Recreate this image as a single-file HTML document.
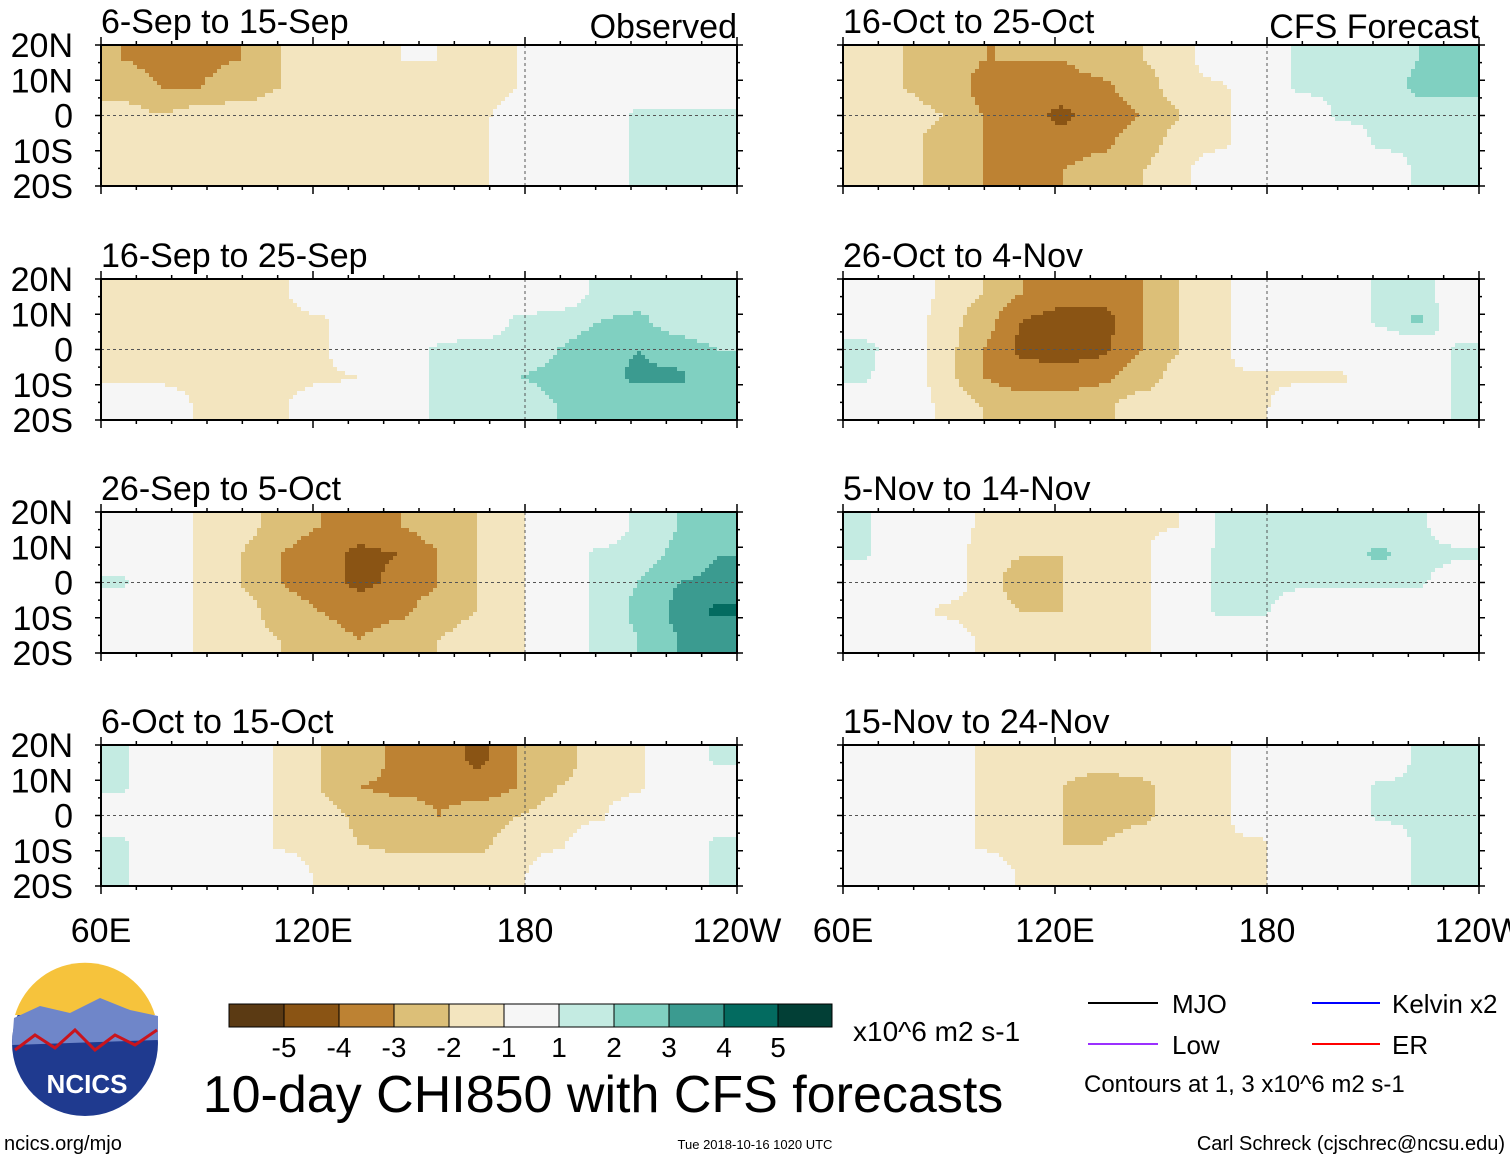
<!DOCTYPE html>
<html><head><meta charset="utf-8">
<style>
body{margin:0;background:#fff;width:1510px;height:1159px;overflow:hidden;font-family:"Liberation Sans",sans-serif;}
svg text{font-family:"Liberation Sans",sans-serif;}
</style></head>
<body>
<svg id="chart" width="1510" height="1159" viewBox="0 0 1510 1159" xmlns="http://www.w3.org/2000/svg" style="position:absolute;left:0;top:0">
<g id="panels"></g>
</svg>
<script>
const lonLabels=["60E","120E","180","120W"];
const latLabels=["20N","10N","0","10S","20S"];
const titles=["6-Sep to 15-Sep","16-Sep to 25-Sep","26-Sep to 5-Oct","6-Oct to 15-Oct","16-Oct to 25-Oct","26-Oct to 4-Nov","5-Nov to 14-Nov","15-Nov to 24-Nov"];
const levels=[-5,-4,-3,-2,-1,1,2,3,4,5];
const colors=["#5b3a13","#8a5414","#bd8233","#dcbf78","#f3e5bf","#f6f6f6","#c4ebe2","#80d0c1","#3b9b90","#036b60","#023f36"];
const p1=[[-3,-3.2,-3.2,-3,-2,-2,-1.5,-1,-1,-1.5,-1,0,0,0,0,0],[-2.5,-3,-3,-2.5,-2,-1.5,-1.2,-1.2,-1,-1.5,-1,0,0,0,0,0],[-1.5,-2,-1.5,-1.5,-1.5,-1.5,-1.5,-1.2,-1.2,-1.2,-0.5,0,0,1.2,1.2,1.2],[-1.2,-1.5,-2,-1.5,-1.5,-1.5,-1.5,-1.2,-1.2,-1.2,0,0,0,1.2,1.5,1.2],[-1.2,-1.2,-1.5,-1.5,-1.5,-1.5,-1.5,-1.2,-1.2,-1.2,0,0,0,1.2,1.8,1.2]];
const p2=[[-1.2,-1.5,-1.5,-1.5,-1.2,0,0,0,0,0,0,0,1.2,1.5,1.2,1.2],[-1.5,-1.5,-1.5,-1.5,-1.5,-1.2,0,0,0,0,1.2,1.5,2,2.2,1.5,1.2],[-1.2,-1.5,-2,-1.5,-1.5,-1.2,0,0,1.2,1.5,1.5,2,2.5,3,2.5,2],[-1.2,-1.2,-1.5,-1.5,-1.5,-1.2,-1,0,1.2,1.5,2,2.2,2.5,3.2,3.2,2.2],[0,0,-1.2,-1.2,-1.2,0,0,0,1.2,1.2,1.5,2,2.2,2.2,2.2,2.2]];
const p3=[[0,0,-1.2,-1.5,-2.5,-3,-3.5,-3,-2.5,-2,-1.2,0,0,1.2,2,2.5],[0,0,-1.2,-2,-3,-3.5,-4.2,-4,-3,-2,-1.2,0,1.2,1.5,2.2,3],[1.2,0,-1.2,-2,-3,-3.5,-4.2,-3.8,-3,-2,-1.2,0,1.2,2,3,3.2],[0,0,-1.2,-1.5,-2.5,-3,-3.5,-3.2,-2.5,-2,-1.2,0,1.2,2.2,3.2,4.2],[0,0,-1.2,-1.5,-2,-2.5,-3,-2.5,-2,-1.5,-1.2,0,1.2,2,3,3.2]];
const p4=[[1.2,0,0,0,-1.2,-2,-2.5,-3.2,-3.5,-4.2,-3,-2.5,-1.5,-1.2,0,1.2],[1.2,0,0,0,-1.2,-2,-3,-3.2,-3.2,-3.5,-3,-2,-1.5,-1.2,0,0],[0,0,0,0,-1.2,-1.5,-2.2,-2.5,-3,-2.5,-2,-1.5,-1.2,0,0,0],[1.2,0,0,0,-1.2,-1.5,-2,-2.2,-2.2,-2.2,-1.5,-1.2,0,0,0,1.2],[1.2,0,0,0,0,-1.2,-1.5,-1.5,-1.5,-1.5,-1.2,0,0,0,0,1.2]];
const p5=[[-1.5,-2,-2.5,-3,-3,-3,-2.5,-2,-1.5,0,0,1.2,1.5,1.5,2,2.2],[-1.5,-2,-2.5,-3.2,-3.5,-3.5,-3.2,-2.5,-1.5,-1.2,0,1.2,1.2,1.5,2.2,2.2],[-1.2,-1.5,-2,-3,-3.5,-4.2,-3.5,-3,-2,-1.2,0,0,1.2,1.2,1.5,1.5],[-1.2,-1.5,-2.5,-3,-3.5,-3.5,-3.2,-2.5,-1.5,-1.2,0,0,0,1.2,1.2,1.2],[-1.2,-1.5,-2.5,-3,-3.2,-3,-2.5,-2,-1.2,0,0,0,0,0,1.2,1.2]];
const p6=[[0,0,-1.2,-2,-3,-3.5,-3.5,-3,-2,-1.2,0,0,0,1.2,1.5,0],[0,0,-1.5,-2.5,-4,-4.5,-4.5,-3,-2,-1.2,0,0,0,1.2,2.2,0],[1.5,0,-1.5,-3,-4.2,-4.5,-4.2,-3,-2,-1.2,0,0,0,0,0,1.2],[1.2,0,-1.5,-3,-3.5,-3.5,-3.2,-2.5,-1.5,-1.2,-1.2,-1.2,-1.2,0,0,1.2],[0,0,-1.2,-2,-2.5,-2.5,-2.2,-1.5,-1.2,-1.2,-1.2,0,0,0,0,1.2]];
const p7=[[1.2,0,0,-1.2,-1.5,-1.5,-1.2,-1.2,-1,1.2,1.2,1.2,1.2,1.2,1.2,0],[1.2,0,0,-1.5,-2,-2,-1.5,-1.2,0,1.2,1.5,1.2,1.5,2.2,1.5,1.2],[0,0,0,-1.5,-2.5,-2,-1.5,-1.2,0,1.2,1.5,1.2,1.2,1.2,1.2,0],[0,0,-1.2,-1.5,-2,-2,-1.5,-1.2,0,1.2,1.2,0,0,0,0,0],[0,0,0,-1.2,-1.5,-1.5,-1.2,-1.2,0,0,0,0,0,0,0,0]];
const p8=[[0,0,0,-1.2,-1.5,-1.5,-1.5,-1.5,-1.2,-1.2,0,0,0,0,1.2,1.2],[0,0,0,-1.2,-1.5,-2,-2.5,-2.2,-1.5,-1.2,0,0,0,1.2,1.2,1.5],[0,0,0,-1.2,-1.5,-2,-2.5,-2.2,-1.5,-1.2,0,0,0,1.2,1.2,1.5],[0,0,0,-1.2,-1.5,-2,-2,-1.5,-1.5,-1.2,-1.2,0,0,0,1.2,1.2],[0,0,0,0,-1.2,-1.5,-1.5,-1.5,-1.2,-1.2,-1.2,0,0,0,1.2,1.2]];
const fields=[p1,p2,p3,p4,p5,p6,p7,p8];

const NS="http://www.w3.org/2000/svg";
function mk(tag,attrs,parent){const e=document.createElementNS(NS,tag);for(const k in attrs)e.setAttribute(k,attrs[k]);parent.appendChild(e);return e;}
function colorOf(v){if(v>-1&&v<1)return colors[5];let i=0;while(i<levels.length&&v>=levels[i])i++;return colors[i];}
function sample(f,fx,fy){const nr=f.length,nc=f[0].length;
  fx=Math.max(0,Math.min(nc-1,fx));fy=Math.max(0,Math.min(nr-1,fy));
  const x0=Math.min(nc-2,Math.floor(fx)),y0=Math.min(nr-2,Math.floor(fy));
  let tx=fx-x0,ty=fy-y0;tx=tx*tx*(3-2*tx)*0.5+tx*0.5;ty=ty*ty*(3-2*ty)*0.5+ty*0.5;
  const a=f[y0][x0],b=f[y0][x0+1],c=f[y0+1][x0],d=f[y0+1][x0+1];
  return (a*(1-tx)+b*tx)*(1-ty)+(c*(1-tx)+d*tx)*ty;}
const W=636,H=141,STEP=4;
const lefts=[101,843],tops=[45,279,512,745];
const pg=document.getElementById('panels');
fields.forEach((f,pi)=>{
  const col=pi<4?0:1,row=pi%4;
  const x0=lefts[col],y0=tops[row];
  const xs=lon=>x0+(lon-60)/180*W;
  const ys=lat=>y0+(20-lat)/40*H;
  const g=mk('g',{},pg);
  
  
  const cg=mk('g',{'shape-rendering':'crispEdges'},g);
  const nr=f.length,nc=f[0].length;
  for(let py=0;py<H;py+=STEP){
    const lat=20-(py+STEP/2)/H*40;
    const fy=(20-lat)/(40/nr)-0.5;
    let runStart=0,runColor=null;
    for(let px=0;px<=W;px+=STEP){
      let c=null;
      if(px<W){const lon=60+(px+STEP/2)/W*180;const fx=(lon-60)/(180/nc)-0.5;c=colorOf(sample(f,fx,fy));}
      if(c!==runColor){
        if(runColor!==null){
          const r=mk('rect',{x:x0+runStart,y:y0+py,width:Math.min(px,W)-runStart,height:Math.min(STEP,H-py),fill:runColor},cg);
          
          
        }
        runStart=px;runColor=c;
      }
    }
  }
  mk('line',{x1:x0,y1:ys(0),x2:x0+W,y2:ys(0),stroke:'#555','stroke-width':1,'stroke-dasharray':'3,3'},g);
  mk('line',{x1:xs(180),y1:y0,x2:xs(180),y2:y0+H,stroke:'#555','stroke-width':1,'stroke-dasharray':'3,3'},g);
  const fr=mk('rect',{x:x0,y:y0,width:W,height:H,fill:'none',stroke:'#000','stroke-width':2},g);
  
  
  for(let lon=60;lon<=240;lon+=10){const L=(lon-60)%60==0?8:4;
    mk('line',{x1:xs(lon),y1:y0,x2:xs(lon),y2:y0-L,stroke:'#000','stroke-width':1.5},g);
    mk('line',{x1:xs(lon),y1:y0+H,x2:xs(lon),y2:y0+H+L,stroke:'#000','stroke-width':1.5},g);}
  for(let lat=-20;lat<=20;lat+=5){const L=lat%10==0?6:3;
    mk('line',{x1:x0,y1:ys(lat),x2:x0-L,y2:ys(lat),stroke:'#000','stroke-width':1.5},g);
    mk('line',{x1:x0+W,y1:ys(lat),x2:x0+W+L,y2:ys(lat),stroke:'#000','stroke-width':1.5},g);}
  const t=mk('text',{x:x0,y:y0-12,'font-size':34,fill:'#000'},g);t.textContent=titles[pi];
  
  
  if(col==0){latLabels.forEach((lb,i)=>{const tt=mk('text',{x:73,y:y0+i*H/4+12,'font-size':34,'text-anchor':'end'},g);tt.textContent=lb;
    
    });}
  if(row==3){lonLabels.forEach((lb,i)=>{const tt=mk('text',{x:x0+i*W/3,y:942,'font-size':34,'text-anchor':'middle'},g);tt.textContent=lb;
    
    });}
});
</script>
<svg style="position:absolute;left:0;top:0" width="1510" height="1159" xmlns="http://www.w3.org/2000/svg">
<text x="737" y="38" font-size="34" text-anchor="end">Observed</text>
<text x="1479" y="38" font-size="34" text-anchor="end">CFS Forecast</text>
<g stroke="#000" stroke-width="1">
<rect x="229" y="1004" width="55" height="23" fill="#5b3a13"/><rect x="284" y="1004" width="55" height="23" fill="#8a5414"/><rect x="339" y="1004" width="55" height="23" fill="#bd8233"/><rect x="394" y="1004" width="55" height="23" fill="#dcbf78"/><rect x="449" y="1004" width="55" height="23" fill="#f3e5bf"/><rect x="504" y="1004" width="55" height="23" fill="#f6f6f6"/><rect x="559" y="1004" width="55" height="23" fill="#c4ebe2"/><rect x="614" y="1004" width="55" height="23" fill="#80d0c1"/><rect x="669" y="1004" width="55" height="23" fill="#3b9b90"/><rect x="724" y="1004" width="54" height="23" fill="#036b60"/><rect x="778" y="1004" width="54" height="23" fill="#023f36"/>
</g>
<g font-size="28" text-anchor="middle">
<text x="284" y="1057">-5</text><text x="339" y="1057">-4</text><text x="394" y="1057">-3</text><text x="449" y="1057">-2</text><text x="504" y="1057">-1</text><text x="559" y="1057">1</text><text x="614" y="1057">2</text><text x="669" y="1057">3</text><text x="724" y="1057">4</text><text x="778" y="1057">5</text>
</g>
<text x="853" y="1041" font-size="28">x10^6 m2 s-1</text>
<text x="603" y="1112" font-size="52" text-anchor="middle">10-day CHI850 with CFS forecasts</text>
<g>
<circle cx="85" cy="1043" r="73" fill="#1f3a8f"/>
<path d="M15,1015 A73,73 0 0 1 155,1015 Z" fill="#f6c33c"/>
<path d="M14,1018 L40,1006 L70,1013 L100,998 L130,1010 L158,1016 L158,1040 L12,1045 Z" fill="#6f86c9"/>
<path d="M15,1050 L35,1035 L55,1048 L75,1030 L95,1050 L115,1035 L135,1045 L157,1030" stroke="#c9141d" stroke-width="3" fill="none"/>
<text x="87" y="1093" font-size="26" font-weight="bold" fill="#fff" text-anchor="middle">NCICS</text>
</g>
<g font-size="26">
<line x1="1088" y1="1003" x2="1158" y2="1003" stroke="#000" stroke-width="2"/><text x="1172" y="1013">MJO</text>
<line x1="1312" y1="1003" x2="1380" y2="1003" stroke="#0000ff" stroke-width="2"/><text x="1392" y="1013">Kelvin x2</text>
<line x1="1088" y1="1044" x2="1158" y2="1044" stroke="#9b30ff" stroke-width="2"/><text x="1172" y="1054">Low</text>
<line x1="1312" y1="1044" x2="1380" y2="1044" stroke="#ff0000" stroke-width="2"/><text x="1392" y="1054">ER</text>
<text x="1084" y="1092" font-size="24">Contours at 1, 3 x10^6 m2 s-1</text>
</g>
<text x="4" y="1150" font-size="20">ncics.org/mjo</text>
<text x="755" y="1149" font-size="13" text-anchor="middle">Tue 2018-10-16 1020 UTC</text>
<text x="1505" y="1150" font-size="20" text-anchor="end">Carl Schreck (cjschrec@ncsu.edu)</text>
</svg>
</body></html>
